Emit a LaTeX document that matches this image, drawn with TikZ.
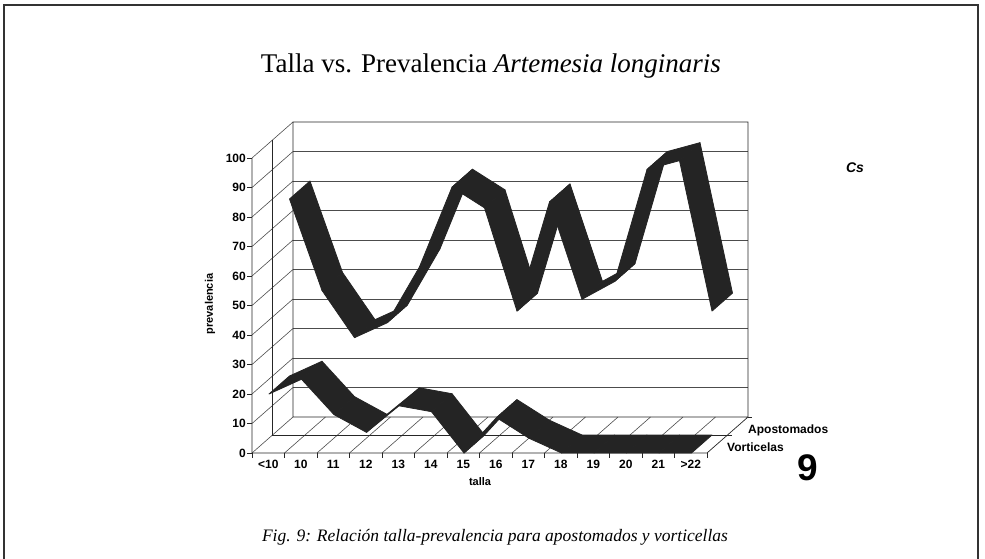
\documentclass[tikz,border=0pt]{standalone}
\usepackage{fontspec}
\setmainfont{Liberation Serif}
\setsansfont{Liberation Sans}
\usepackage{tikz}
\tikzstyle{every node}=[inner sep=0pt,font=\sffamily\bfseries\fontsize{12}{13}\selectfont]
\tikzstyle{frame}=[line width=1.6pt,black!80]
\tikzstyle{wall}=[line width=0.7pt,black!85]
\tikzstyle{gridline}=[line width=0.6pt,black!70]
\tikzstyle{ribbon}=[fill=black!86,draw=black!86,line width=0.8pt,line join=round]
\def\apost{{80,49,33,38,57,84,77,42,79,46,52,90,93,42}}
\def\vort{{20,25,13,7,16,14,0,12,5,0,0,0,0,0}}

\begin{document}
\begin{tikzpicture}[x=1pt,y=-1pt]
  \useasboundingbox (0,0) rectangle (985,559);
  \draw[frame] (4,559) -- (4,5) -- (978,5) -- (978,559);
  \node (title) at (491,66) [font=\rmfamily\fontsize{27}{30}\selectfont]
    {Talla vs. Prevalencia \textit{Artemesia longinaris}};
  % side wall and back wall
  \foreach \k in {0,...,10}
    \draw[gridline] (252,{453-29.5*\k}) -- (293,{417-29.5*\k});
  \foreach \k in {1,...,9}
    \draw[gridline] (293,{417-29.5*\k}) -- (748,{417-29.5*\k});
  % floor
  \foreach \j in {1,...,13}
    \draw[gridline] ({252+32.5*\j},453) -- ({293+32.5*\j},417);
  \draw[wall] (252,158) -- (252,453) -- (707,453) -- (748,417) -- (748,122)
    -- (293,122) -- (293,417) -- (748,417);
  \draw[wall] (272.5,140) -- (272.5,435) -- (727.5,435);
  % apostomados
  \foreach \i in {0,...,12}{
    \pgfmathsetmacro\va{\apost[\i]}
    \pgfmathsetmacro\vb{\apost[\i+1]}
    \filldraw[ribbon] ({289.5+32.5*\i},{435-2.95*\va}) -- ({322+32.5*\i},{435-2.95*\vb})
      -- ++(20.5,-18) -- ({310+32.5*\i},{417-2.95*\va}) -- cycle;
  }
  % vorticelas
  \foreach \i in {0,...,12}{
    \pgfmathsetmacro\va{\vort[\i]}
    \pgfmathsetmacro\vb{\vort[\i+1]}
    \filldraw[ribbon] ({269+32.5*\i},{453-2.95*\va}) -- ({301.5+32.5*\i},{453-2.95*\vb})
      -- ++(20.5,-18) -- ({289.5+32.5*\i},{435-2.95*\va}) -- cycle;
  }
  % axes
  \foreach \k [evaluate=\k as \lab using int(10*\k)] in {0,...,10}{
    \draw[wall] (247,{453-29.5*\k}) -- (252,{453-29.5*\k});
    \node[anchor=east] (ylab\k) at (246,{453-29.5*\k}) {\lab};
  }
  \foreach \j in {0,...,14}
    \draw[wall] ({252+32.5*\j},453) -- ({252+32.5*\j},458);
  \foreach \lab [count=\i from 0] in {<10,10,11,12,13,14,15,16,17,18,19,20,21,>22}
    \node[anchor=north] (xlab\i) at ({268.25+32.5*\i},460) {\lab};
  \node (xname) at (480,482) [font=\sffamily\bfseries\fontsize{11}{12}\selectfont] {talla};
  \node[rotate=90] (yname) at (210,304) [font=\sffamily\bfseries\fontsize{11}{12}\selectfont] {prevalencia};
  \draw[wall] (727.5,435) -- (732,435);
  \draw[wall] (748,417) -- (752,417);
  \node[anchor=west] (apo) at (748,430) {Apostomados};
  \node[anchor=west] (vor) at (727,447) {Vorticelas};
  \node (mark) at (855,168) [font=\sffamily\bfseries\itshape\fontsize{14}{15}\selectfont] {Cs};
  \node (num) at (808,468) [font=\sffamily\bfseries\fontsize{37}{40}\selectfont] {9};
  \node (caption) at (495,537) [font=\rmfamily\itshape\fontsize{17.5}{20}\selectfont]
    {Fig. 9: Relación talla-prevalencia para apostomados y vorticellas};
\end{tikzpicture}
\end{document}
